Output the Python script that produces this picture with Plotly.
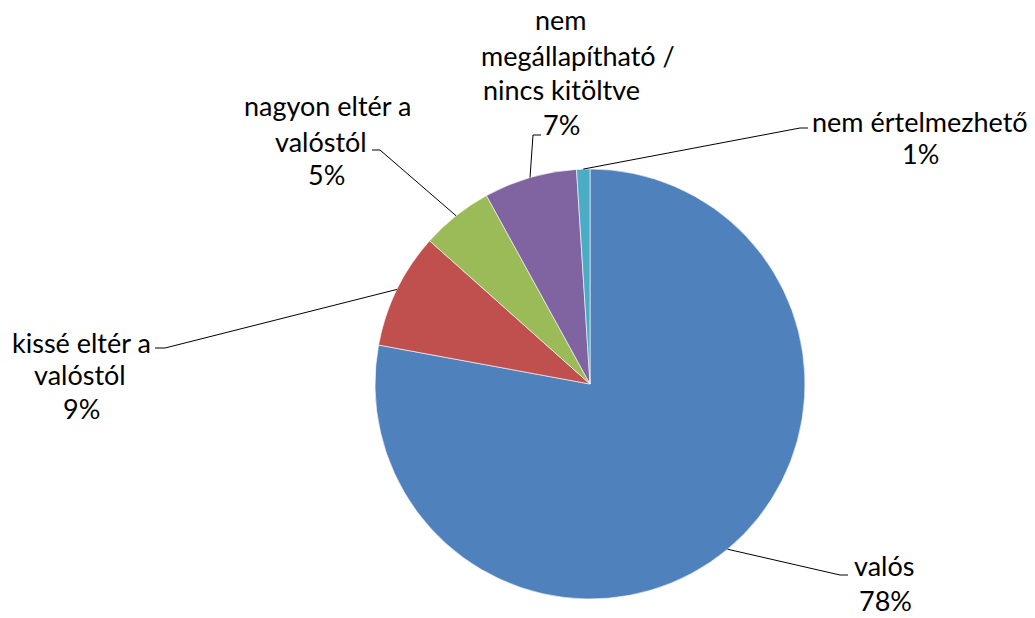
import math
import plotly.graph_objects as go

# adatok
categories = ["valós", "kissé eltér a valóstól", "nagyon eltér a valóstól",
              "nem megállapítható / nincs kitöltve", "nem értelmezhető"]
shares = [77.9, 8.7, 5.4, 7.0, 1.0]
colors = ["#4F81BD", "#C0504D", "#9BBB59", "#8064A2", "#4BACC6"]

# címkék sorai (a szöveg sortörései)
label_lines = [
    ["valós"],
    ["kissé eltér a", "valóstól"],
    ["nagyon eltér a", "valóstól"],
    ["nem", "megállapítható /", "nincs kitöltve"],
    ["nem értelmezhető"],
]

W, H = 1035, 618
FONT = dict(family="Lato, 'Open Sans', sans-serif", size=27, color="#000000")

# kördiagram helye pixelben
pie_left, pie_right, pie_top, pie_bottom = 375, 805, 169, 599
cx, cy = (pie_left + pie_right) / 2, (pie_top + pie_bottom) / 2
radius = (pie_right - pie_left) / 2

# címkék elhelyezése: (x középpont, y) soronként, és a vezető vonal könyöke
label_layout = [
    dict(lines=[(884, 565)], pct=(885, 600), elbow=(840, 575), end=(848, 575)),
    dict(lines=[(81, 342), (80, 375)], pct=(81, 408), elbow=(165, 348), end=(155, 348)),
    dict(lines=[(327, 106), (321, 141)], pct=(326, 174), elbow=(380, 150), end=(372, 150)),
    dict(lines=[(561, 20), (578, 55), (561, 90)], pct=(561, 125), elbow=(533, 135), end=(541, 135)),
    dict(lines=[(920, 122)], pct=(920, 153), elbow=(800, 128), end=(808, 128)),
]


def px(x, y):
    return x / W, 1 - y / H


fig = go.Figure(go.Pie(
    labels=categories,
    values=shares,
    marker=dict(colors=colors, line=dict(color="rgba(255,255,255,0.6)", width=1)),
    sort=False,
    direction="clockwise",
    rotation=0,
    textinfo="none",
    hoverinfo="label+percent",
    domain=dict(x=[pie_left / W, pie_right / W], y=[1 - pie_bottom / H, 1 - pie_top / H]),
))

total = sum(shares)
cum = 0
annotations = []
shapes = []
for name, val, lines, lay in zip(categories, shares, label_lines, label_layout):
    mid = 2 * math.pi * (cum + val / 2) / total
    cum += val
    sx, sy = cx + radius * math.sin(mid), cy - radius * math.cos(mid)

    for txt, (lx, ly) in zip(lines, lay["lines"]):
        x, y = px(lx, ly)
        annotations.append(dict(x=x, y=y, xref="paper", yref="paper", text=txt, borderpad=0,
                                showarrow=False, font=FONT, xanchor="center", yanchor="middle"))
    x, y = px(*lay["pct"])
    annotations.append(dict(x=x, y=y, xref="paper", yref="paper", text=f"{round(val / total * 100)}%",
                            borderpad=0, showarrow=False, font=FONT, xanchor="center", yanchor="middle"))

    # vezető vonal
    p0, p1, p2 = px(sx, sy), px(*lay["elbow"]), px(*lay["end"])
    shapes.append(dict(type="path", xref="paper", yref="paper",
                       path=f"M {p0[0]},{p0[1]} L {p1[0]},{p1[1]} L {p2[0]},{p2[1]}",
                       line=dict(color="#000000", width=1)))

fig.update_layout(
    width=W, height=H,
    margin=dict(l=0, r=0, t=0, b=0),
    paper_bgcolor="white",
    plot_bgcolor="white",
    showlegend=False,
    annotations=annotations,
    shapes=shapes,
)

# a böngésző alapértelmezett 8px-es margóját kikapcsoljuk
fig.write_html("out.html", config={"displayModeBar": False},
               post_script="document.body.style.margin='0';")
